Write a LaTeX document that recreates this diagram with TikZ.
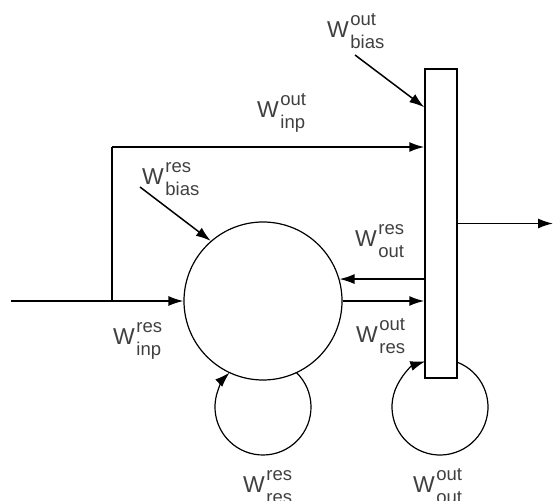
\documentclass[tikz,border=0pt]{standalone}
\usepackage{fontspec}
\setmainfont{Liberation Sans}
\usetikzlibrary{arrows.meta}
\newcommand{\wlab}[2]{{\fontsize{23}{23}\selectfont W}\kern1.5pt\rlap{\raisebox{12pt}{#1}}\raisebox{-11pt}{#2}}

\begin{document}
\begin{tikzpicture}[x=1pt, y=1pt,
  arr/.style={-{Latex[length=15pt,width=10pt]}, line width=1.5pt},
  lab/.style={anchor=base west, inner sep=0pt, text=black!75, font=\fontsize{18.5}{18.5}\selectfont}]
  \useasboundingbox (0,0) rectangle (553,500);
  % koordinate
  \coordinate (in) at (11,199);
  \coordinate (br) at (112,199);
  \coordinate (brtop) at (112,353);
  \coordinate (out) at (553,276.5);
  \coordinate (bo) at (355,445);
  \coordinate (bres) at (140,313);
  \coordinate (lres) at (263,93);
  \coordinate (lout) at (440,93);
  % vozlisca
  \node [circle, draw, line width=1.2pt, minimum size=158pt, inner sep=0pt] (res) at (263,199) {};
  \node [rectangle, draw, line width=1.5pt, minimum width=32pt, minimum height=309pt, inner sep=0pt] (bar) at (441,276.5) {};
  % puscice
  \draw [arr] (in) -- (res.west);
  \draw [line width=1.5pt] (br) -- (brtop);
  \draw [arr] (brtop) -- (brtop -| bar.west);
  \draw [arr] (res.16 -| bar.west) -- (res.16);
  \draw [arr] (res.east) -- (res.east -| bar.west);
  \draw [arr] (bar.east) -- (out);
  \draw [arr] (bo) -- ([yshift=-39pt]bar.north west);
  \draw [arr] (bres) -- (res.131);
  % zanke
  \draw [arr, line width=1.2pt] ([shift={(45.8:48pt)}]lres) arc [start angle=45.8, end angle=-225.8, radius=48pt];
  \draw [arr, line width=1.2pt] ([shift={(69.3:48pt)}]lout) arc [start angle=69.3, end angle=-252.2, radius=48pt];
  % oznake
  \node [lab] (wbo) at (327,462) {\wlab{out}{bias}};
  \node [lab] (wio) at (257,382) {\wlab{out}{inp}};
  \node [lab] (wbr) at (142,315) {\wlab{res}{bias}};
  \node [lab] (wor) at (355,253) {\wlab{res}{out}};
  \node [lab] (wir) at (113,155) {\wlab{res}{inp}};
  \node [lab] (wro) at (356,157) {\wlab{out}{res}};
  \node [lab] (wrr) at (243,8) {\wlab{res}{res}};
  \node [lab] (woo) at (413,8) {\wlab{out}{out}};
\end{tikzpicture}
\end{document}
